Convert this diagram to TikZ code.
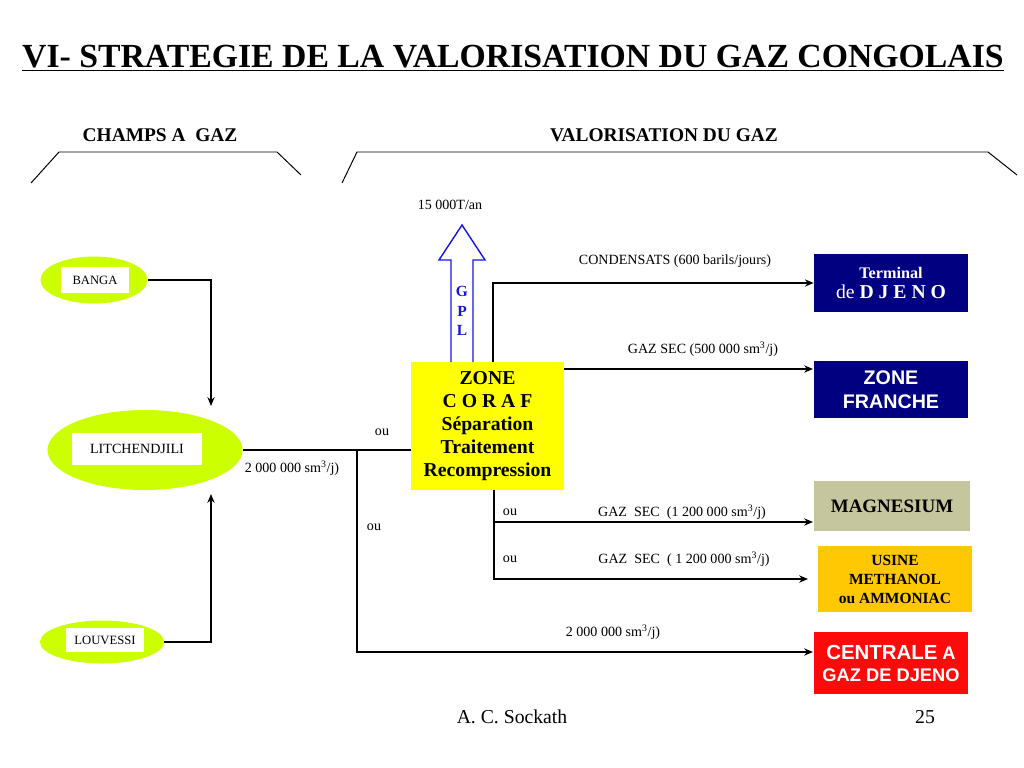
\documentclass[tikz,border=0pt]{standalone}
\usepackage{fontspec}
\setmainfont{Liberation Serif}
\newfontfamily\arialfont{Liberation Sans}
\usetikzlibrary{positioning,arrows.meta,calc,shapes.geometric}

\definecolor{fieldgreen}{RGB}{204,255,0}
\definecolor{coraflow}{RGB}{255,255,0}
\definecolor{gplblue}{RGB}{20,20,230}
\definecolor{djenonavy}{RGB}{0,0,128}
\definecolor{magkhaki}{RGB}{198,198,158}
\definecolor{usineorange}{RGB}{255,200,0}
\definecolor{centralered}{RGB}{255,10,10}

\begin{document}
\begin{tikzpicture}[
    x=0.025cm, y=-0.025cm,
    field/.style={ellipse, fill=fieldgreen, inner sep=0pt},
    fieldtag/.style={fill=white, inner sep=0pt, font=\fontsize{9}{11}\selectfont},
    dest/.style={minimum width=3.85cm, inner sep=0pt, align=center},
    pipe/.style={line width=1.8pt},
    flow/.style={pipe, -{Stealth[length=2.2mm, width=1.8mm]}},
    lbl/.style={font=\fontsize{10}{12}\selectfont, inner sep=0pt},
    head/.style={font=\bfseries\fontsize{13.8}{16}\selectfont},
    bracket/.style={line width=0.7pt},
  ]
  \useasboundingbox (0,0) rectangle (1024,768);

  % title and headers
  \node[anchor=base, font=\bfseries\fontsize{24}{28}\selectfont] (title) at (513,68)
    {\underline{VI- STRATEGIE DE LA VALORISATION DU GAZ CONGOLAIS}};
  \node[head] (champs) at (160,135) {CHAMPS A~ GAZ};
  \node[head] (valo) at (664,135) {VALORISATION DU GAZ};
  \draw[bracket] (31,183) -- (59,152) -- (277,152) -- (301,175);
  \draw[bracket] (342,183) -- (357,152) -- (988,152) -- (1017,175);

  % gas fields
  \node[field, minimum width=2.675cm, minimum height=1.175cm] (banga) at (94,280) {};
  \node[fieldtag, minimum width=1.675cm, minimum height=0.625cm] (bangatag) at (95,280) {BANGA};
  \node[field, minimum width=4.875cm, minimum height=2cm] (litch) at (145,450) {};
  \node[fieldtag, minimum width=3.25cm, minimum height=0.8cm,
        font=\fontsize{10}{12}\selectfont] (litchtag) at (137,449) {LITCHENDJILI};
  \node[field, minimum width=3.1cm, minimum height=1.075cm] (louvessi) at (102,642) {};
  \node[fieldtag, minimum width=1.925cm, minimum height=0.6cm] (louvessitag) at (105,640) {LOUVESSI};

  % CORAF zone
  \node[fill=coraflow, minimum width=3.825cm, minimum height=3.2cm, align=center,
        font=\bfseries\fontsize{14}{16.5}\selectfont] (coraf) at (487.5,426)
    {ZONE\\C O R A F\\Séparation\\Traitement\\Recompression};

  % GPL output arrow
  \draw[gplblue, line width=1pt, fill=white] (451,362) -- (451,260) -- (439,260)
    -- (462,225) -- (485,260) -- (473,260) -- (473,362);
  \node[gplblue, align=center, inner sep=0pt,
        font=\bfseries\fontsize{11}{14}\selectfont] (gpl) at (462,311) {G\\P\\L};

  % destinations
  \node[dest, fill=djenonavy, text=white, minimum height=1.425cm,
        font=\fontsize{14}{14.5}\selectfont] (terminal) at (891,283)
    {{\bfseries\fontsize{11.5}{14}\selectfont Terminal}\\
     de {\bfseries D J E N O}};
  \node[dest, fill=djenonavy, text=white, minimum height=1.425cm,
        font=\arialfont\bfseries\fontsize{14}{17}\selectfont] (franche) at (891,389.5)
    {ZONE\\FRANCHE};
  \node[dest, fill=magkhaki, minimum width=3.9cm, minimum height=1.225cm,
        font=\bfseries\fontsize{13.5}{16}\selectfont] (magnesium) at (892,506) {MAGNESIUM};
  \node[dest, fill=usineorange, minimum height=1.65cm,
        font=\bfseries\fontsize{11}{13.5}\selectfont] (usine) at (895,579)
    {USINE\\METHANOL\\ou AMMONIAC};
  \node[dest, fill=centralered, text=white, minimum height=1.55cm,
        font=\arialfont\bfseries\fontsize{13}{15.6}\selectfont] (centrale) at (891,663)
    {{\fontsize{14.5}{15.6}\selectfont CENTRALE} A\\GAZ DE DJENO};

  % field pipes
  \coordinate (litchin) at (211,406);
  \coordinate (litchlow) at (211,494);
  \draw[flow] (banga.east) -| (litchin);
  \draw[flow] (louvessi.east) -| (litchlow);
  \draw[pipe] (litch.east) -- (litch.east -| coraf.west);
  \coordinate (split) at (357,450);
  \coordinate (centralein) at (813,652);
  \draw[flow] (split) |- (centralein);

  % CORAF outputs
  \coordinate (condturn) at (493,283);
  \draw[flow] (coraf.north -| condturn) |- (terminal.west);
  \coordinate (franchein) at (813,369);
  \draw[flow] (coraf.east |- franchein) -- (franchein);
  \coordinate (lowturn) at (494,579);
  \coordinate (magin) at (813,522);
  \coordinate (usinein) at (808,579);
  \draw[flow] (coraf.south -| lowturn) |- (usinein);
  \draw[flow] (lowturn |- magin) -- (magin);

  % flow labels
  \node[lbl] (tonnage) at (450,205) {15 000T/an};
  \node[lbl] (cond) at (675,261) {CONDENSATS (600 barils/jours)};
  \node[lbl] (gazsec) at (703,349) {GAZ SEC (500 000 sm\textsuperscript{3}/j)};
  \node[lbl] (ouA) at (382,432) {ou};
  \node[lbl] (debit) at (292,468) {2 000 000 sm\textsuperscript{3}/j)};
  \node[lbl] (ouB) at (374,527) {ou};
  \node[lbl] (ouC) at (510,512) {ou};
  \node[lbl] (gazmag) at (682,512) {GAZ~ SEC~ (1 200 000 sm\textsuperscript{3}/j)};
  \node[lbl] (ouD) at (510,559) {ou};
  \node[lbl] (gazusine) at (684,559) {GAZ~ SEC~ ( 1 200 000 sm\textsuperscript{3}/j)};
  \node[lbl] (debitcentrale) at (613,632) {2 000 000 sm\textsuperscript{3}/j)};

  % footer
  \node[font=\fontsize{14}{16}\selectfont] (author) at (512,717) {A. C. Sockath};
  \node[font=\fontsize{14}{16}\selectfont] (page) at (925,717) {25};
\end{tikzpicture}
\end{document}
